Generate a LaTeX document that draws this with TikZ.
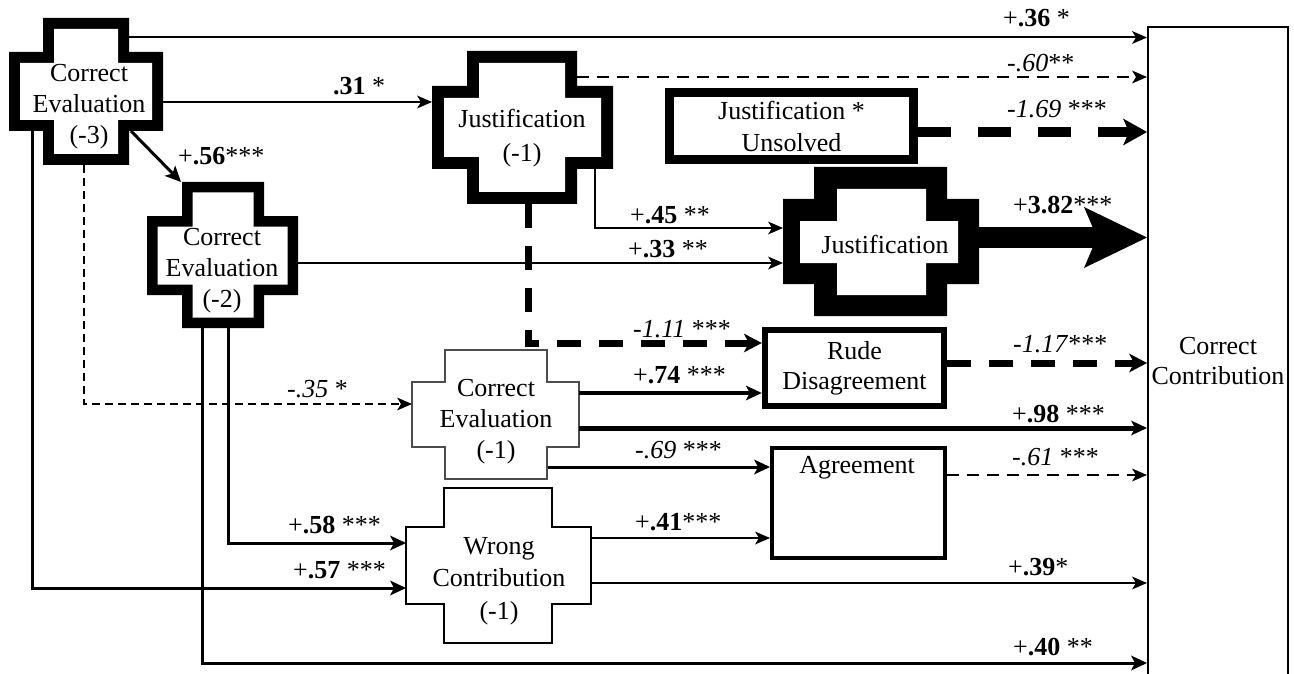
\documentclass[tikz,border=0pt]{standalone}
\usepackage{fontspec}
\setmainfont{Liberation Serif}
\usetikzlibrary{arrows.meta}
% #1 style, vertical bar [#2,#3]x[#4,#5], horizontal bar [#6,#7]x[#8,#9]
\newcommand\crosspath[9]{\path[#1] (#2,#4) -- (#3,#4) -- (#3,#8) -- (#7,#8) -- (#7,#9) -- (#3,#9) -- (#3,#5) -- (#2,#5) -- (#2,#9) -- (#6,#9) -- (#6,#8) -- (#2,#8) -- cycle;}
\tikzset{
  tx/.style={align=center, inner sep=0pt, font=\fontsize{26}{31}\selectfont},
  lab/.style={anchor=base west, inner sep=0pt, font=\fontsize{26}{31}\selectfont},
  box/.style={draw, inner sep=0pt, fill=white},
  tipS/.style={-{Stealth[length=15pt,width=13pt,inset=4pt,line width=0pt]}},
  tipM/.style={-{Stealth[length=16pt,width=15pt,inset=4pt,line width=0pt]}},
  tipL/.style={-{Stealth[length=18pt,width=19pt,inset=5pt,line width=0pt]}},
  tipXL/.style={-{Stealth[length=24pt,width=27pt,inset=6pt,line width=0pt]}},
  dashS/.style={dash pattern=on 8pt off 5pt},
  dashM/.style={dash pattern=on 12pt off 8pt},
  dashL/.style={dash pattern=on 24pt off 18pt},
  dashXL/.style={dash pattern=on 33pt off 27pt},
}
\begin{document}
\begin{tikzpicture}[x=1pt,y=-1pt,line join=miter]
\useasboundingbox (0,0) rectangle (1294,674);
% ---------- shapes ----------
% Correct Evaluation (-3)
\crosspath{fill=black}{43}{129}{18}{165}{9}{163}{52}{131}
\crosspath{fill=white}{54}{118}{29}{154}{20}{152}{63}{120}
\node[tx] (ce3) at (89,106.5) {Correct\\Evaluation\\(-3)};
% Correct Evaluation (-2)
\crosspath{fill=black}{182}{264}{182}{328}{147}{298}{216}{295}
\crosspath{fill=white}{192.5}{253.5}{192.5}{317.5}{157.5}{287.5}{226.5}{284.5}
\node[tx] (ce2) at (222,271) {Correct\\Evaluation\\(-2)};
% Justification (-1)
\crosspath{fill=black}{467}{577}{51}{204}{432}{613}{86}{169}
\crosspath{fill=white}{479}{565}{63}{192}{444}{601}{98}{157}
\node[tx, font=\fontsize{26}{34}\selectfont] (j1) at (522,138.5) {Justification\\(-1)};
% Justification (big)
\crosspath{fill=black}{814}{947}{167}{316}{783}{979}{199}{284}
\crosspath{fill=white}{837}{926}{189}{295}{800}{958}{221}{263}
\node[tx, anchor=base] (jb) at (885,253) {Justification};
% Correct Evaluation (-1)
\crosspath{draw=black!70, line width=1.5pt, fill=white}{445}{547}{350}{479}{412}{579}{382}{447}
\node[tx] (ce1) at (496,422) {Correct\\Evaluation\\(-1)};
% Wrong Contribution (-1)
\crosspath{draw=black, line width=2.5pt, fill=white}{444}{552}{488}{643}{406}{591}{527}{604}
\node[tx, font=\fontsize{26}{32.5}\selectfont] (wc) at (499,581) {Wrong\\Contribution\\(-1)};
% rectangles
\node[box, line width=9pt, minimum width=244pt, minimum height=67pt, tx, font=\fontsize{26}{32}\selectfont] (ju) at (791.5,126) {Justification *\\Unsolved};
\node[box, line width=6.5pt, minimum width=179pt, minimum height=76pt, tx, font=\fontsize{26}{30}\selectfont] (rude) at (854.5,368) {Rude\\Disagreement};
\node[box, line width=4pt, minimum width=173pt, minimum height=110pt] (agr) at (858.5,503) {};
\node[tx, anchor=base] (agrt) at (857,473) {Agreement};
\node[box, line width=2pt, minimum width=140pt, minimum height=673pt] (cc) at (1218,363.5) {};
\node[tx, font=\fontsize{26}{30}\selectfont] (cct) at (1218,361) {Correct\\Contribution};
% ---------- connector end points on the crosses ----------
\coordinate (ce3-a) at (129,37.5);
\coordinate (ce3-b) at (163,102);
\coordinate (ce3-c) at (131,131);
\coordinate (ce2-nw) at (181,182);
\coordinate (ce3-d) at (32,131);
\coordinate (ce3-e) at (84,165);
\coordinate (wc-a) at (406,588);
\coordinate (wc-b) at (406,543);
\coordinate (wc-c) at (591,538);
\coordinate (wc-d) at (591,583);
\coordinate (ce1-w) at (412,404);
\coordinate (ce1-a) at (579,393);
\coordinate (ce1-b) at (579,428);
\coordinate (ce1-c) at (548,467);
\coordinate (j1-w) at (432,102);
\coordinate (j1-a) at (577,77);
\coordinate (j1-b) at (595,169);
\coordinate (j1-c) at (528,204);
\coordinate (jb-a) at (783,228);
\coordinate (jb-b) at (783,263);
\coordinate (jb-e) at (979,237.5);
\coordinate (ce2-a) at (298,263);
\coordinate (ce2-b) at (228,328);
\coordinate (ce2-c) at (202,328);
\coordinate (ju-e) at (918,132);
\coordinate (rude-e) at (947,363);
\coordinate (agr-e) at (947,475);
% ---------- connectors ----------
\draw[line width=2pt, tipS] (ce3-a) -- (ce3-a -| cc.west);
\draw[line width=2pt, tipS] (ce3-b) -- (j1-w);
\draw[line width=3pt, tipM] (ce3-c) -- (ce2-nw);
\draw[line width=3pt, tipM] (ce3-d) |- (wc-a);
\draw[line width=2pt, dashS, tipS] (ce3-e) |- (ce1-w);
\draw[line width=2.5pt, dashM, tipS] (j1-a) -- (j1-a -| cc.west);
\draw[line width=2pt, tipS] (j1-b) |- (jb-a);
\draw[line width=1.5pt, tipS] (ce2-a) -- (jb-b);
\draw[line width=7pt, dashL, tipL] (j1-c) |- (j1-c |- 0,343) -- (rude.west |- 0,343);
\draw[line width=10pt, dashXL, tipXL] (ju-e) -- (ju-e -| cc.west);
\draw[line width=7pt, dashL, tipL] (rude-e) -- (rude-e -| cc.west);
\draw[line width=4pt, tipM] (ce1-a) -- (ce1-a -| rude.west);
\draw[line width=5pt, tipM] (ce1-b) -- (ce1-b -| cc.west);
\draw[line width=3pt, tipM] (ce1-c) -- (ce1-c -| agr.west);
\draw[line width=2.5pt, dashM, tipS] (agr-e) -- (agr-e -| cc.west);
\draw[line width=3pt, tipM] (ce2-b) |- (wc-b);
\draw[line width=2pt, tipS] (wc-c) -- (wc-c -| agr.west);
\draw[line width=2pt, tipS] (wc-d) -- (wc-d -| cc.west);
\draw[line width=3pt, tipM] (ce2-c) |- (ce2-c |- 0,663) -- (cc.west |- 0,663);
% ---------- labels ----------
\node[lab] (l1) at (1003,27) {+\textbf{.36} *};
\node[lab] (l2) at (333,95) {\textbf{.31} *};
\node[lab] (l3) at (178,165) {+\textbf{.56}***};
\node[lab] (l4) at (293,578) {+\textbf{.57} ***};
\node[lab] (l5) at (287,397) {\textit{-.35} *};
\node[lab] (l6) at (1007,72) {\textit{-.60}**};
\node[lab] (l7) at (630,223) {+\textbf{.45} **};
\node[lab] (l8) at (628,257) {+\textbf{.33} **};
\node[lab] (l9) at (633,337) {\textit{-1.11} ***};
\node[lab] (l10) at (1007,118) {\textit{-1.69} ***};
\node[lab] (l11) at (1013,213) {+\textbf{3.82}***};
\node[lab] (l12) at (1013,352) {\textit{-1.17}***};
\node[lab] (l13) at (633,383) {+\textbf{.74} ***};
\node[lab] (l14) at (1012,422) {+\textbf{.98} ***};
\node[lab] (l15) at (635,458) {\textit{-.69} ***};
\node[lab] (l16) at (1012,465) {\textit{-.61} ***};
\node[lab] (l17) at (288,533) {+\textbf{.58} ***};
\node[lab] (l18) at (635,530) {+\textbf{.41}***};
\node[lab] (l19) at (1008,575) {+\textbf{.39}*};
\node[lab] (l20) at (1013,655) {+\textbf{.40} **};
% big arrow (drawn over its label, as in the figure)
\draw[line width=21pt, -{Stealth[length=63pt,width=61pt,inset=13pt,line width=0pt]}] (jb-e) -- (jb-e -| cc.west);
\end{tikzpicture}
\end{document}
